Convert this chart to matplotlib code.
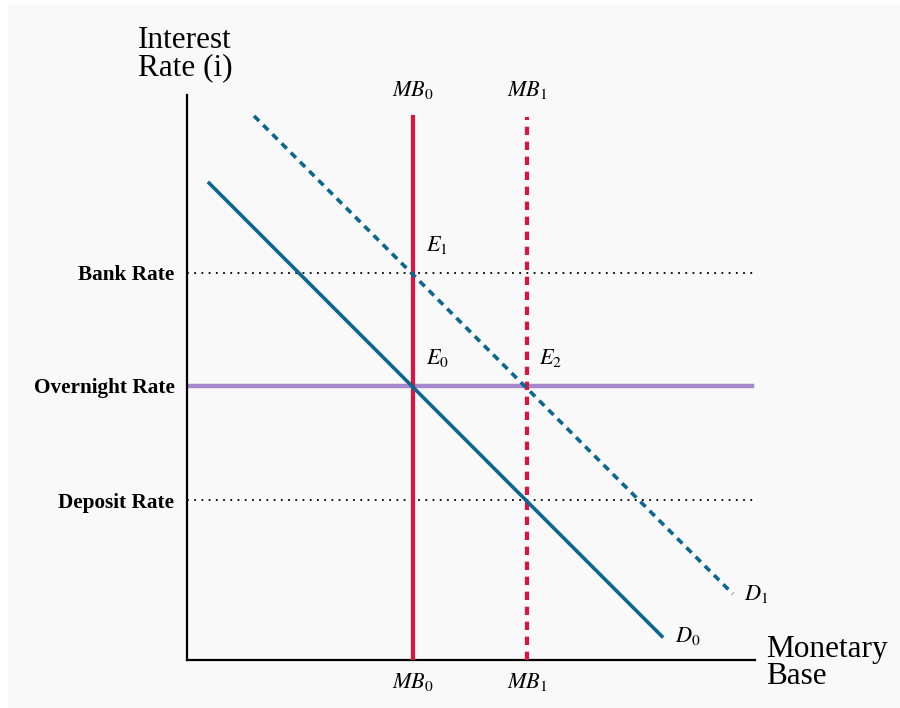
import matplotlib.pyplot as plt
from matplotlib.patches import Rectangle

plt.rcParams['font.family'] = ['Liberation Serif', 'DejaVu Serif']
plt.rcParams['mathtext.fontset'] = 'stix'

# rates (y) and monetary base positions (x), in axis units 0..10
rate_names = ['Bank Rate', 'Overnight Rate', 'Deposit Rate']
rate_levels = [6.85, 4.85, 2.83]
mb_names = ['$MB_0$', '$MB_1$']
mb_levels = [3.98, 5.99]
mb_top = 9.61

# demand curves, (x, y) endpoints
d0_x = [0.39, 8.36]
d0_y = [8.44, 0.42]
d1_x = [1.18, 9.61]
d1_y = [9.63, 1.17]

blue = '#0b6690'
red = '#e0123f'
purple = '#a888cc'

fig = plt.figure(figsize=(9, 7.08), dpi=100)
fig.patch.set_facecolor('white')
fig.patches.append(Rectangle((8 / 900, -0.1), 1.2, 1.1 - 5 / 708, transform=fig.transFigure,
                             facecolor='#f9f9f9', edgecolor='none', zorder=-10))

W, H = 900, 708
ax = fig.add_axes([187 / W, (H - 660) / H, (755 - 187) / W, (660 - 95) / H])
ax.set_facecolor('none')
ax.set_xlim(0, 10)
ax.set_ylim(0, 10)
for s in ['top', 'right']:
    ax.spines[s].set_visible(False)
for s in ['left', 'bottom']:
    ax.spines[s].set_linewidth(1.6)
    ax.spines[s].set_color('black')
ax.set_xticks([])
ax.set_yticks(rate_levels)
ax.set_yticklabels(rate_names, fontsize=15.3, fontweight='bold')
ax.tick_params(axis='y', length=0, pad=9)

# bank and deposit rate, dotted
ax.plot([0, 10], [rate_levels[0]] * 2, color='black', ls=(0, (1, 3)), lw=1.3)
ax.plot([0, 10], [rate_levels[2]] * 2, color='black', ls=(0, (1, 3)), lw=1.3)
# overnight rate
ax.plot([0, 9.95], [rate_levels[1]] * 2, color=purple, lw=3.2, zorder=2)

# supply of monetary base
ax.plot([mb_levels[0]] * 2, [0, mb_top], color=red, lw=3, zorder=3)
ax.plot([mb_levels[1]] * 2, [0, mb_top], color=red, lw=3, ls=(0, (2, 1.6)), zorder=3)

# demand
ax.plot(d0_x, d0_y, color=blue, lw=2.6, zorder=4)
ax.plot(d1_x, d1_y, color=blue, lw=2.6, ls=(0, (2, 1.6)), zorder=4)

for name, x in zip(mb_names, mb_levels):
    ax.text(x, 9.9, name, ha='center', va='bottom', fontsize=16)
    ax.text(x, -0.2, name, ha='center', va='top', fontsize=16)

ax.text(4.2, 7.15, '$E_1$', fontsize=16, ha='left', va='bottom')
ax.text(4.2, 5.15, '$E_0$', fontsize=16, ha='left', va='bottom')
ax.text(6.2, 5.15, '$E_2$', fontsize=16, ha='left', va='bottom')
ax.text(9.8, 1.17, '$D_1$', fontsize=16, ha='left', va='center')
ax.text(8.6, 0.42, '$D_0$', fontsize=16, ha='left', va='center')

ax.text(-0.03, 10.22, 'Interest\nRate (i)', ha='center', va='bottom', fontsize=22.5,
        linespacing=0.92, multialignment='left', clip_on=False)
ax.text(10.2, -0.05, 'Monetary\nBase', ha='left', va='center', fontsize=22.5,
        linespacing=0.92, multialignment='left', clip_on=False)

fig.savefig('out.png', dpi=100, facecolor=fig.get_facecolor())
